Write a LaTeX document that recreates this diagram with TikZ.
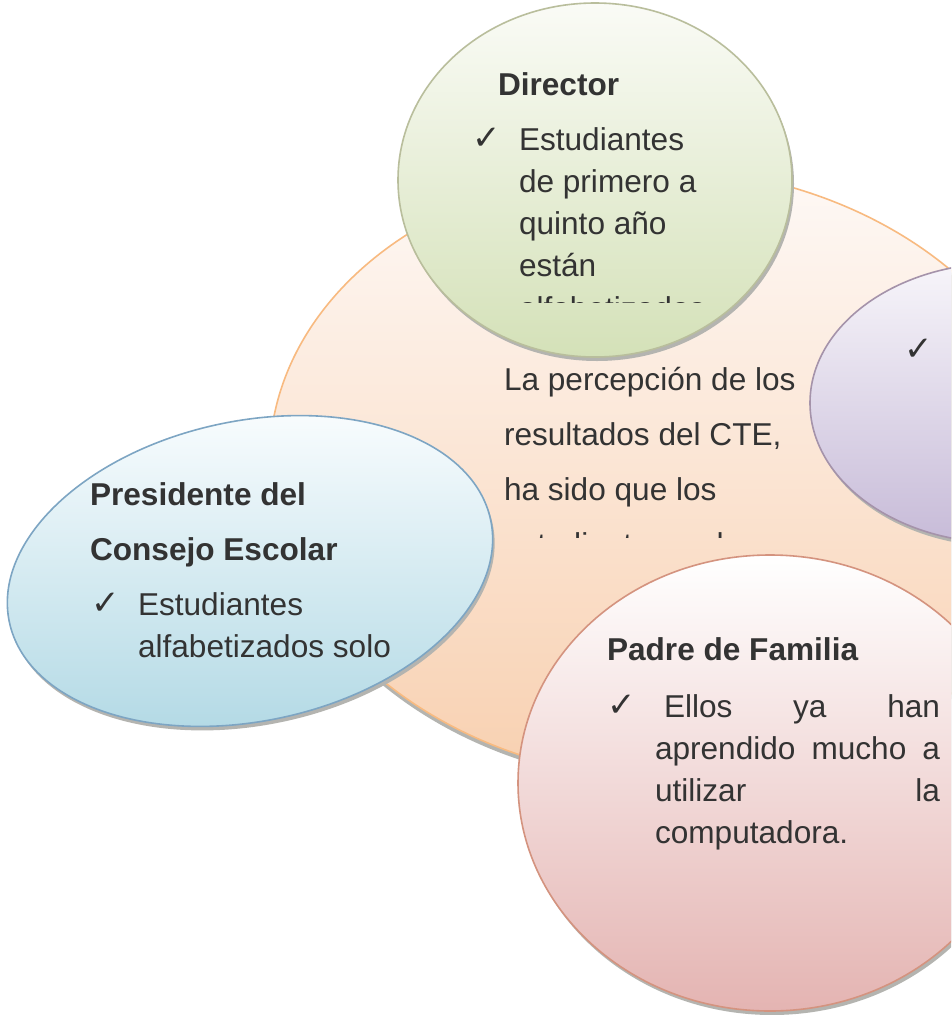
\documentclass[tikz,border=0pt]{standalone}
\usepackage{fontspec}
\setmainfont{Liberation Sans}
\newfontfamily\symfont{DejaVu Sans}
\definecolor{txt}{HTML}{333333}
\definecolor{rimgray}{HTML}{B4B4B0}
\definecolor{orangeline}{HTML}{F8BA80}
\definecolor{orangetop}{HTML}{FEFAF8}
\definecolor{orangebot}{HTML}{F8D0B0}
\definecolor{greenline}{HTML}{B9BE9C}
\definecolor{greentop}{HTML}{FAFBF6}
\definecolor{greenbot}{HTML}{D4E1B8}
\definecolor{blueline}{HTML}{7DA5C3}
\definecolor{bluetop}{HTML}{FCFEFF}
\definecolor{bluebot}{HTML}{B0D8E4}
\definecolor{purpleline}{HTML}{A593AA}
\definecolor{purpletop}{HTML}{F7F5FA}
\definecolor{purplebot}{HTML}{C7BBD8}
\definecolor{pinkline}{HTML}{D4937F}
\definecolor{pinktop}{HTML}{FFFFFF}
\definecolor{pinkbot}{HTML}{E4B4B2}
\begin{document}
\begin{tikzpicture}[x=1pt,y=1pt,
  lbl/.style={anchor=base west, inner sep=0pt, outer sep=0pt, text=txt, font=\fontsize{31.6}{38}\selectfont},
  ttl/.style={anchor=base west, inner sep=0pt, outer sep=0pt, text=txt, font=\fontsize{31.6}{38}\selectfont\bfseries},
  chk/.style={anchor=base west, inner sep=0pt, outer sep=0pt, text=txt, font=\symfont\fontsize{34}{40}\selectfont},
  rim/.style={fill=rimgray},
  blob/.style={line width=1.6pt},
]
\useasboundingbox (0,0) rectangle (951,-1015);
\clip (0,0) rectangle (951,-1015);
\fill[white] (0,0) rectangle (951,-1015);

% ---- central orange shape
\fill[rim, rotate around={-4:(665,-474)}] (666,-479) ellipse [x radius=396, y radius=306];
\draw[blob, draw=orangeline, top color=orangetop, bottom color=orangebot, rotate around={-4:(665,-474)}] (665,-474) ellipse [x radius=396, y radius=306];
\begin{scope}
  \clip (480,-340) rectangle (951,-537);
  \node[lbl] (c1) at (504,-390) {La percepción de los};
  \node[lbl] (c2) at (504,-445) {resultados del CTE,};
  \node[lbl] (c3) at (504,-500) {ha sido que los};
  \node[lbl] (c4) at (504,-555) {estudiantes ya han};
\end{scope}

% ---- Director (green)
\fill[rim] (597,-184) ellipse [x radius=197, y radius=177];
\draw[blob, draw=greenline, top color=greentop, bottom color=greenbot] (595,-180) ellipse [x radius=197, y radius=177];
\node[ttl] (dt) at (498,-95) {Director};
\node[chk] (dk) at (472,-149) {✓};
\begin{scope}
  \clip (400,-100) rectangle (800,-302);
  \node[lbl] (d1) at (519,-150) {Estudiantes};
  \node[lbl] (d2) at (519,-192) {de primero a};
  \node[lbl] (d3) at (519,-234) {quinto año};
  \node[lbl] (d4) at (519,-276) {están};
  \node[lbl] (d5) at (519,-319) {alfabetizados};
\end{scope}

% ---- purple (right)
\fill[rim] (1004,-407) ellipse [x radius=192, y radius=140];
\draw[blob, draw=purpleline, top color=purpletop, bottom color=purplebot] (1002,-403) ellipse [x radius=192, y radius=140];
\node[chk] (pk) at (904,-360) {✓};

% ---- Presidente (blue)
\fill[rim, rotate around={12:(252,-575)}] (252,-575) ellipse [x radius=246, y radius=150];
\draw[blob, draw=blueline, top color=bluetop, bottom color=bluebot, rotate around={12:(250,-571)}] (250,-571) ellipse [x radius=246, y radius=150];
\node[ttl] (b1) at (90,-505) {Presidente del};
\node[ttl] (b2) at (90,-560) {Consejo Escolar};
\node[chk] (bk) at (91,-614) {✓};
\node[lbl] (b3) at (138,-615) {Estudiantes};
\node[lbl] (b4) at (138,-657) {alfabetizados solo};

% ---- Padre de Familia (pink)
\fill[rim] (772,-787) ellipse [x radius=252, y radius=228];
\draw[blob, draw=pinkline, top color=pinktop, bottom color=pinkbot] (770,-783) ellipse [x radius=252, y radius=228];
\node[ttl] (pt) at (607,-660) {Padre de Familia};
\node[chk] (pck) at (607,-716) {✓};
\node[lbl] (p1) at (664,-717) {\hbox to 276pt{Ellos\hfill ya\hfill han}};
\node[lbl] (p2) at (655,-759) {\hbox to 285pt{aprendido\hfill mucho\hfill a}};
\node[lbl] (p3) at (655,-801) {\hbox to 285pt{utilizar\hfill la}};
\node[lbl] (p4) at (655,-843) {computadora.};
\end{tikzpicture}
\end{document}
